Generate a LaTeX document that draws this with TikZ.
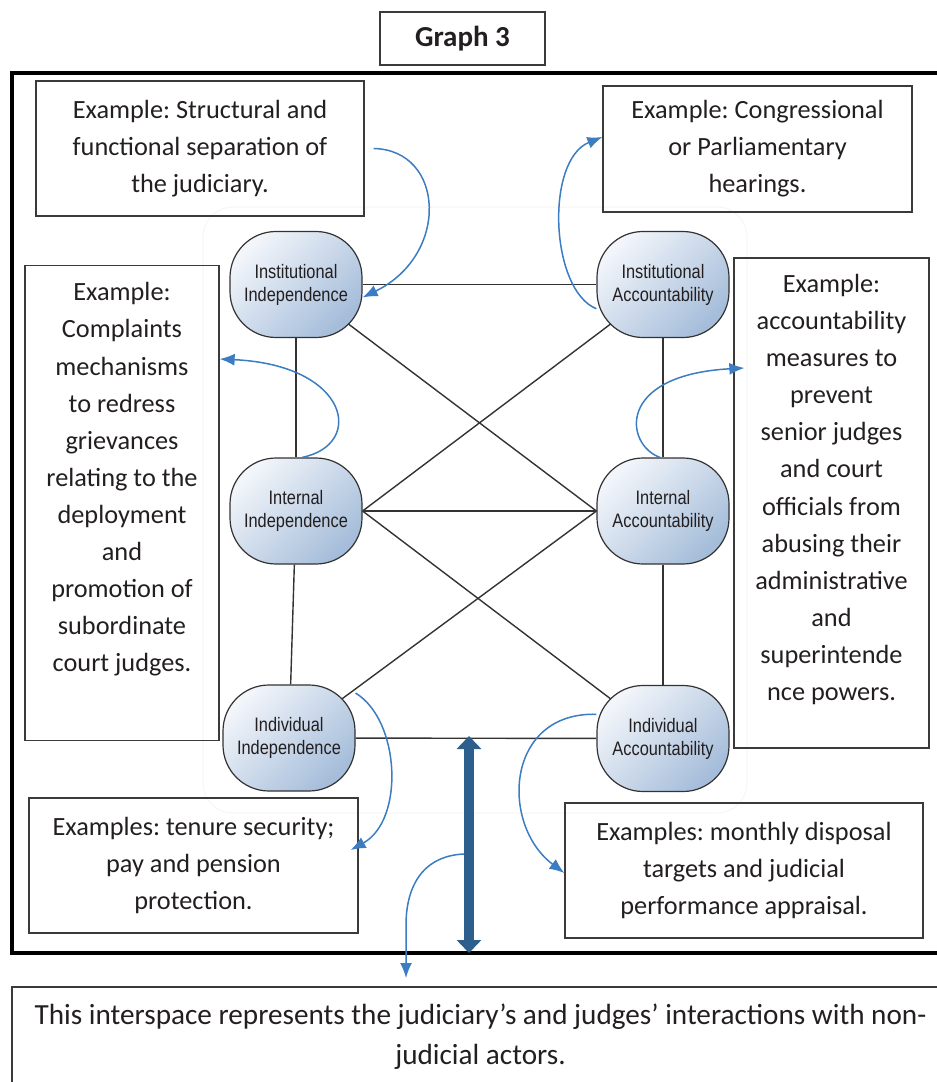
\documentclass[tikz,border=0pt]{standalone}
\usepackage{fontspec}
\setmainfont{Carlito}
\newfontfamily\nodefont[FakeStretch=0.84]{Liberation Sans}
\usetikzlibrary{arrows.meta,backgrounds}
\frenchspacing

\definecolor{boxline}{HTML}{3A3A3A}
\definecolor{nodetop}{HTML}{F2F5FA}
\definecolor{nodebottom}{HTML}{A5BDDA}
\definecolor{curveblue}{HTML}{3B7CC2}
\definecolor{gapblue}{HTML}{2C5F8B}
\definecolor{txt}{HTML}{231F20}

\begin{document}
\begin{tikzpicture}[x=1pt, y=-1pt,
  every node/.style={text=txt},
  dimnode/.style={draw=black!80, line width=1.2pt, rectangle, rounded corners=46pt,
    minimum width=132pt, minimum height=106pt, top color=nodetop, bottom color=nodebottom,
    shading angle=45, font=\nodefont\fontsize{19.5}{23}\selectfont, align=center, inner sep=0pt},
  examplebox/.style={draw=boxline, line width=1.3pt, inner sep=0pt},
  boxtext/.style={font=\fontsize{26.3}{37.1}\selectfont, align=center},
  link/.style={draw=black!80, line width=1.4pt},
  pointer/.style={draw=curveblue, line width=1.5pt, -{Latex[length=15pt,width=12pt]}}]

\useasboundingbox (0,0) rectangle (937,1082);
\clip (0,0) rectangle (937,1082);

% faint background and outer frame
\draw [black!4, line width=1pt, rounded corners=30pt] (203,207) rectangle (747,813);
\draw [line width=4pt] (12,73) rectangle (960,953);

\node [examplebox, minimum width=165pt, minimum height=53pt, font=\bfseries\fontsize{29}{32}\selectfont] (title) at (462.5,38.5) {Graph 3};

% example boxes
\node [examplebox, boxtext, minimum width=328pt, minimum height=135pt] (exInstInd) at (200,148.5) {Example: Structural and\\functional separation of\\the judiciary.};
\node [examplebox, boxtext, minimum width=309pt, minimum height=126pt] (exInstAcc) at (757.5,149) {Example: Congressional\\or Parliamentary\\hearings.};
\node [examplebox, minimum width=194pt, minimum height=475.5pt] (exIntInd) at (122,503) {};
\node [boxtext] (exIntIndText) at (122,479.5) {Example:\\Complaints\\mechanisms\\to redress\\grievances\\relating to the\\deployment\\and\\promotion of\\subordinate\\court judges.};
\node [examplebox, minimum width=195pt, minimum height=490pt] (exIntAcc) at (831.5,503) {};
\node [boxtext] (exIntAccText) at (831.5,489.5) {Example:\\accountability\\measures to\\prevent\\senior judges\\and court\\officials from\\abusing their\\administrative\\and\\superintende\\nce powers.};
\node [examplebox, boxtext, minimum width=329pt, minimum height=135pt] (exIndInd) at (193.5,865.5) {Examples: tenure security;\\pay and pension\\protection.};
\node [examplebox, boxtext, minimum width=358pt, minimum height=135pt] (exIndAcc) at (744,870.5) {Examples: monthly disposal\\targets and judicial\\performance appraisal.};

\draw [boxline, line width=1.3pt] (12,987) rectangle (960,1100);
\node [font=\fontsize{29.2}{40}\selectfont, align=center] (interspace) at (480.5,1037) {This interspace represents the judiciary’s and judges’ interactions with non-\\judicial actors.};

% the six dimensions
\node [dimnode] (instInd) at (296,284.5) {Institutional\\Independence};
\node [dimnode] (instAcc) at (663,284.5) {Institutional\\Accountability};
\node [dimnode] (intInd) at (296,511) {Internal\\Independence};
\node [dimnode] (intAcc) at (663,511) {Internal\\Accountability};
\node [dimnode] (indInd) at (289,738) {Individual\\Independence};
\node [dimnode] (indAcc) at (663,738.5) {Individual\\Accountability};

\begin{scope}[on background layer]
\draw [link] (instInd) -- (instAcc);
\draw [link] (intInd) -- (intAcc);
\draw [link] (indInd) -- (indAcc);
\draw [link] (instInd) -- (intInd);
\draw [link] (intInd) -- (indInd);
\draw [link] (instAcc) -- (intAcc);
\draw [link] (intAcc) -- (indAcc);
\draw [link] (instInd.center) -- (intAcc.west);
\draw [link] (instAcc.center) -- (intInd.east);
\draw [link] (intInd.east) -- (indAcc.center);
\draw [link] (intAcc.west) -- (indInd.center);
\end{scope}

% interspace arrow
\coordinate (gapTop) at (469,736);
\coordinate (gapBottom) at (469,953);
\coordinate (gapSide) at (464,854);
\coordinate (interTip) at (406,978);
\draw [gapblue, line width=10pt, {Triangle[width=24pt,length=13pt]}-{Triangle[width=24pt,length=13pt]}] (gapTop) -- (gapBottom);

% pointers to the examples
\draw [pointer] ([xshift=9pt]exInstInd.east) .. controls (445,150) and (450,255) .. (instInd.-11);
\draw [pointer] (instAcc.200) .. controls (550,290) and (545,160) .. ([yshift=12pt]exInstAcc.west);
\draw [pointer] ([xshift=6pt]intInd.north) .. controls (365,445) and (350,365) .. ([yshift=144pt]exIntInd.east);
\draw [pointer] ([xshift=-3pt]intAcc.north) .. controls (625,445) and (615,375) .. ([xshift=11pt,yshift=135pt]exIntAcc.west);
\draw [pointer] (indInd.34) .. controls (400,720) and (405,820) .. ([xshift=-8pt,yshift=15.5pt]exIndInd.east);
\draw [pointer] (indAcc.160) .. controls (505,712) and (500,825) .. ([yshift=-2.5pt]exIndAcc.west);
\draw [pointer] (gapSide) .. controls (420,856) and (406,890) .. (406,925) -- (interTip);

\end{tikzpicture}
\end{document}
